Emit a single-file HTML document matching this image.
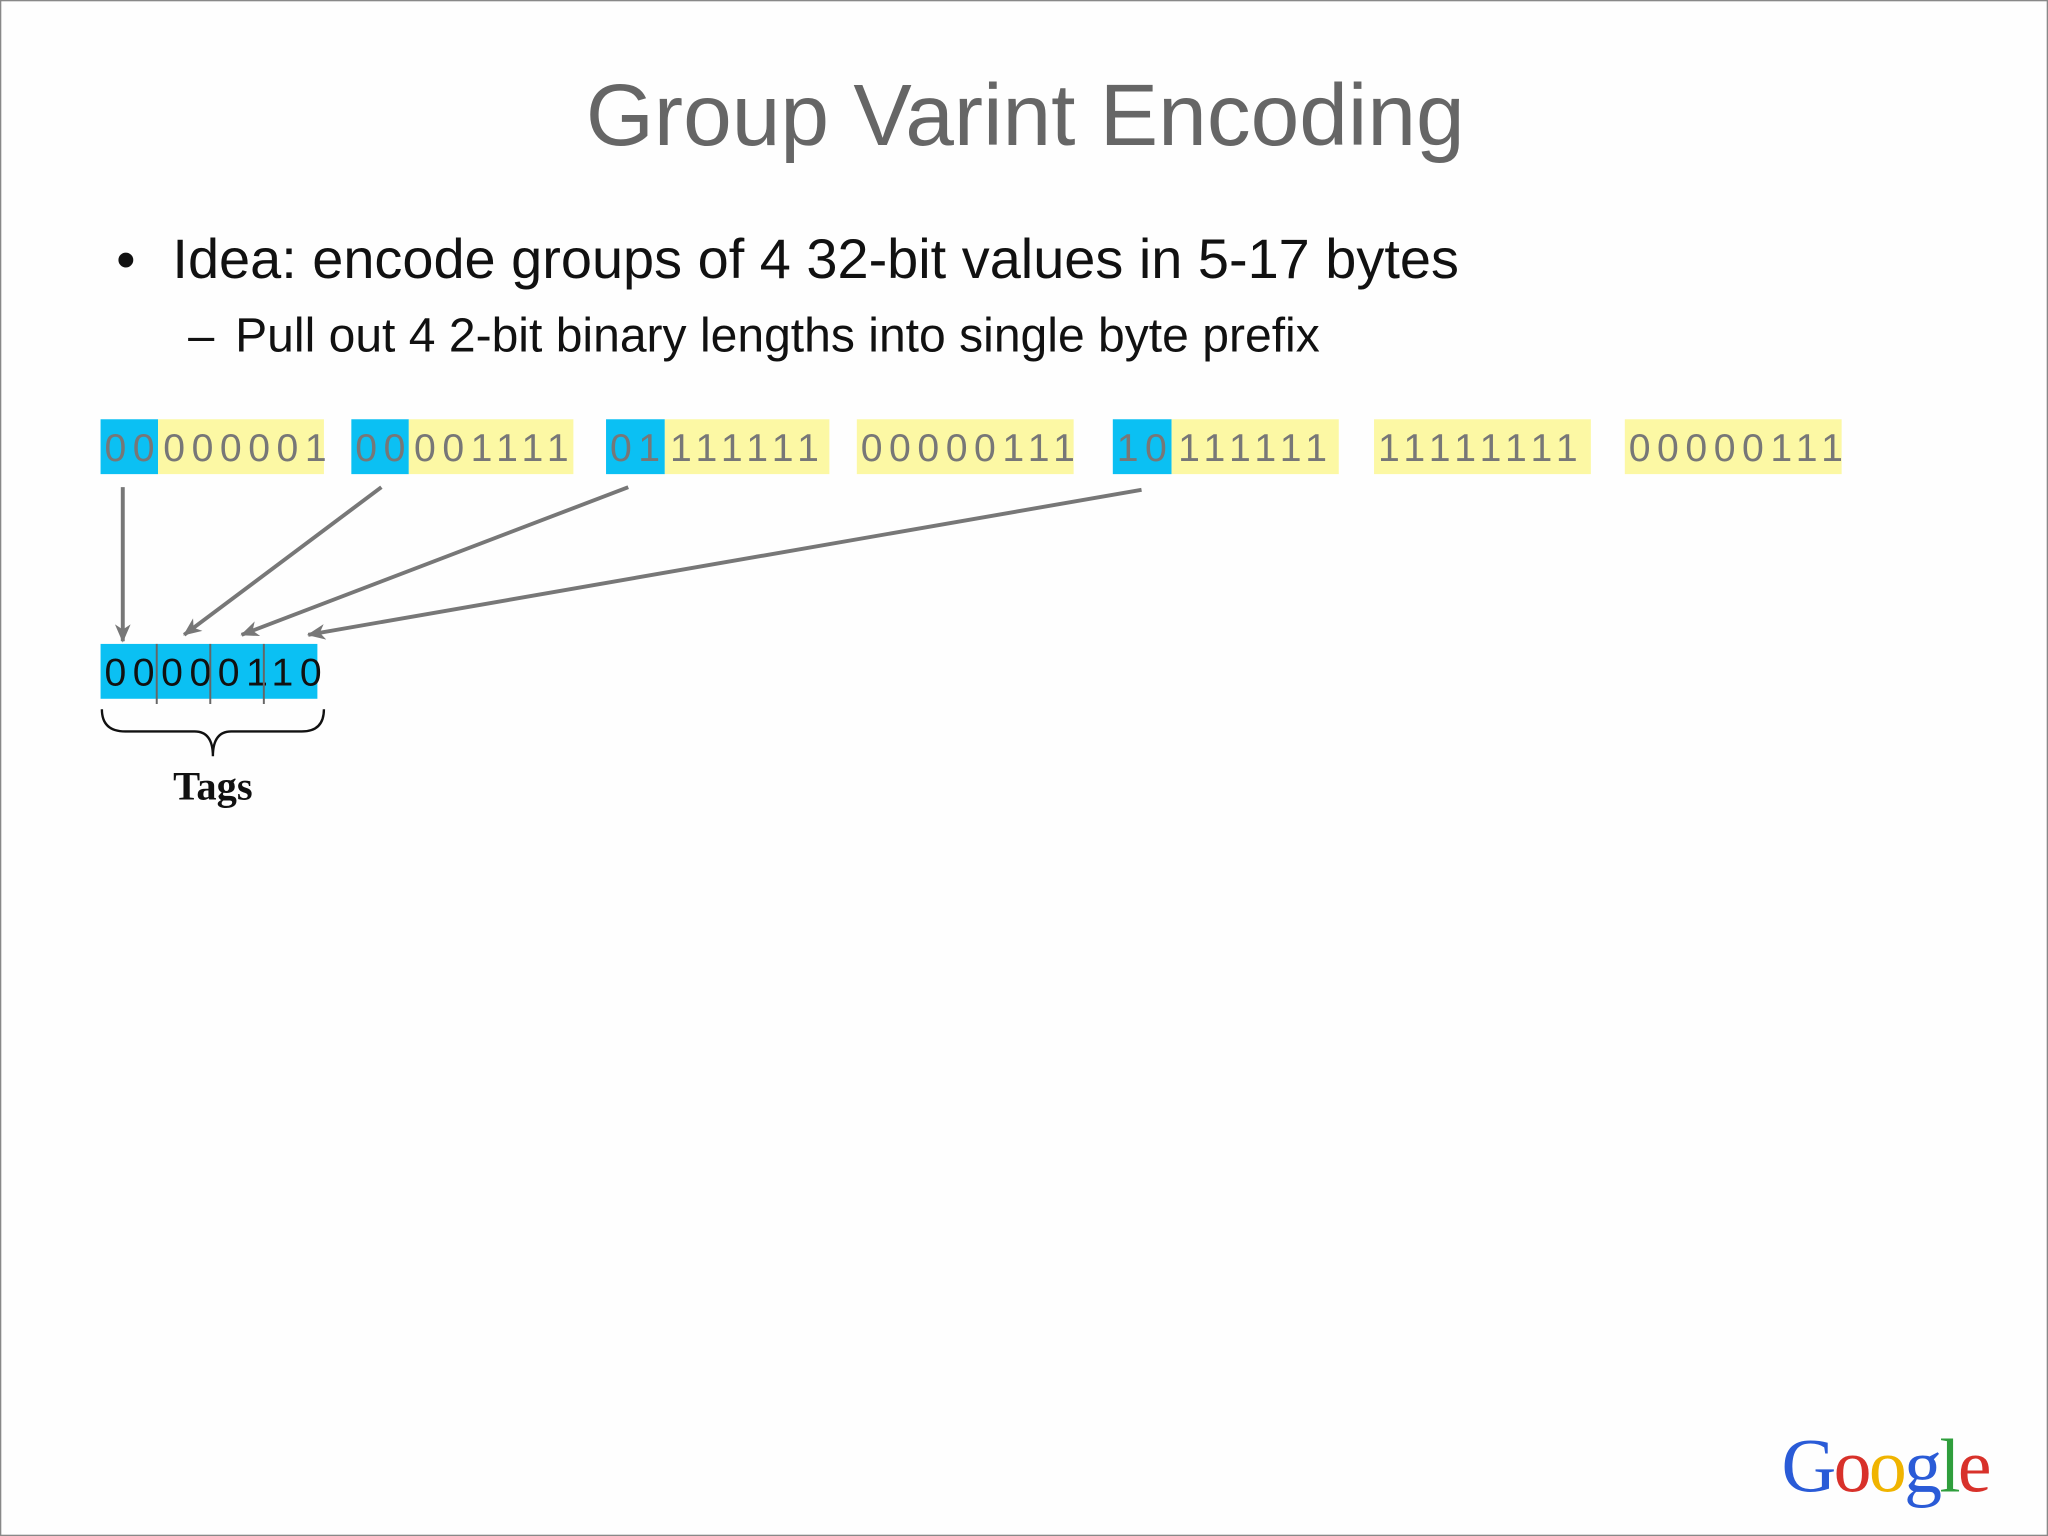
<!DOCTYPE html>
<html><head><meta charset="utf-8">
<style>
html,body{margin:0;padding:0;background:#fff;}
#wrap{width:2048px;height:1536px;overflow:hidden;position:relative;}
#slide{position:absolute;left:0;top:0;width:1568px;height:1176px;transform:scale(1.30612);transform-origin:0 0;background:#fefefe;box-sizing:border-box;border:1px solid #888;font-family:"Liberation Sans",sans-serif;}
.abs{position:absolute;white-space:nowrap;}
.box{position:absolute;top:320px;height:42px;}
.b{background:#0bc0f3;}
.y{background:#fcf8a4;}
.bt{position:absolute;top:320px;height:42px;line-height:46px;font-family:"Liberation Sans",sans-serif;font-size:30px;letter-spacing:5px;color:#777;}
</style></head><body>
<div id="wrap">
<div id="slide">
<div class="abs" style="left:0;width:1568px;text-align:center;top:49px;font-size:67px;color:#666;">Group Varint Encoding</div>
<div class="abs" style="left:88px;top:174px;font-size:42px;color:#111;">•</div>
<div class="abs" style="left:131px;top:174px;font-size:42.8px;color:#111;">Idea: encode groups of 4 32-bit values in 5-17 bytes</div>
<div class="abs" style="left:143px;top:235px;font-size:36px;color:#111;">–</div>
<div class="abs" style="left:179px;top:235px;font-size:36.8px;color:#111;">Pull out 4 2-bit binary lengths into single byte prefix</div>

<div class="box b" style="left:76px;width:44px"></div>
<div class="box y" style="left:120px;width:127px"></div>
<div class="box b" style="left:268px;width:44px"></div>
<div class="box y" style="left:312px;width:126px"></div>
<div class="box b" style="left:463px;width:45px"></div>
<div class="box y" style="left:508px;width:126px"></div>
<div class="box y" style="left:655px;width:166px"></div>
<div class="box b" style="left:851px;width:45px"></div>
<div class="box y" style="left:896px;width:128px"></div>
<div class="box y" style="left:1051px;width:166px"></div>
<div class="box y" style="left:1243px;width:166px"></div>

<div class="bt" style="left:79px">00</div>
<div class="bt" style="left:124px">000001</div>
<div class="bt" style="left:271px">00</div>
<div class="bt" style="left:316px">001111</div>
<div class="bt" style="left:466px">01</div>
<div class="bt" style="left:512px">111111</div>
<div class="bt" style="left:658px">00000111</div>
<div class="bt" style="left:854px">10</div>
<div class="bt" style="left:901px">111111</div>
<div class="bt" style="left:1054px">11111111</div>
<div class="bt" style="left:1246px">00000111</div>

<div class="box b" style="left:76px;top:492px;width:166px"></div>
<div class="bt" style="left:79px;top:492px;color:#111">00000110</div>

<svg class="abs" style="left:0;top:0" width="1568" height="1176">
<defs><marker id="ah" markerWidth="14" markerHeight="12" refX="13" refY="6" orient="auto" markerUnits="userSpaceOnUse" viewBox="0 0 14 12"><path d="M0,0 L14,6 L0,12 L4,6 z" fill="#777"/></marker></defs>
<g stroke="#777" stroke-width="3" fill="none">
<line x1="93" y1="372" x2="93" y2="490" marker-end="url(#ah)"/>
<line x1="291" y1="372" x2="140" y2="485" marker-end="url(#ah)"/>
<line x1="480" y1="372" x2="184" y2="485" marker-end="url(#ah)"/>
<line x1="873" y1="374" x2="235" y2="485" marker-end="url(#ah)"/>
</g>
<g stroke="#666" stroke-width="1.5">
<line x1="119" y1="492" x2="119" y2="538"/>
<line x1="160" y1="492" x2="160" y2="538"/>
<line x1="201" y1="492" x2="201" y2="538"/>
</g>
<path d="M77,542 Q77,559 95,559 L148,559 Q162,559 162,578 Q162,559 176,559 L230,559 Q247,559 247,542" stroke="#111" stroke-width="1.8" fill="none"/>
</svg>
<div class="abs" style="left:112px;width:100px;text-align:center;top:583px;font-family:'Liberation Serif',serif;font-weight:bold;font-size:31px;color:#111;">Tags</div>

<div class="abs" style="left:1363px;top:1088px;font-family:'Liberation Serif',serif;font-size:58px;letter-spacing:-2px;"><span style="color:#2a5bd7">G</span><span style="color:#d8312a">o</span><span style="color:#f0b400">o</span><span style="color:#2a5bd7">g</span><span style="color:#2f9e3c">l</span><span style="color:#d8312a">e</span></div>
</div></div>
</body></html>
